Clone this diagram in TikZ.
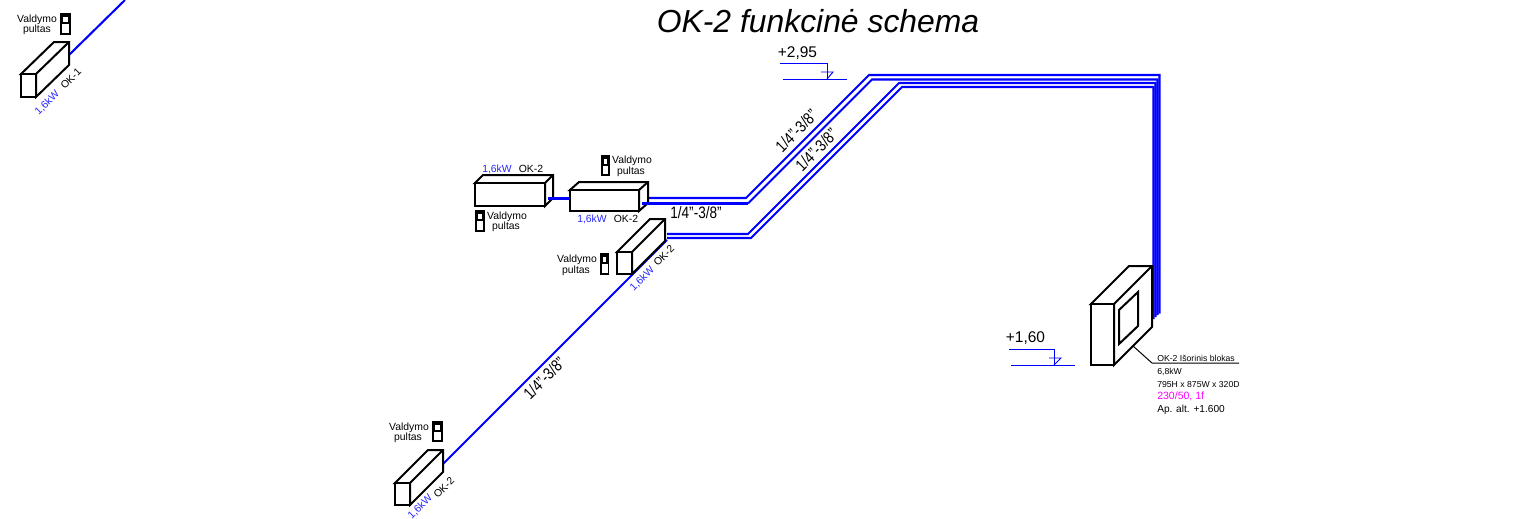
\documentclass[tikz,border=0pt]{standalone}
\usepackage{fontspec}
\setmainfont{Liberation Sans}
\definecolor{pipeblue}{RGB}{0,0,255}
\definecolor{kwblue}{RGB}{40,40,255}
\definecolor{pink}{RGB}{255,0,255}
\tikzset{
  unitline/.style={draw=black,line width=1.5pt,fill=white,line join=miter},
  pipe/.style={draw=pipeblue,line width=1.55pt,line join=miter},
  singlepipe/.style={draw=pipeblue,line width=1.55pt},
  levelmark/.style={draw=pipeblue,line width=.7pt},
  leader/.style={draw=black,line width=.75pt},
  lbl/.style={inner sep=0pt,text height=.72em,text depth=0pt,font=\fontsize{7.8pt}{8pt}\selectfont},
  kw/.style={lbl,text=kwblue},
  leftlbl/.style={inner sep=0pt,anchor=west,text height=.72em,text depth=0pt,font=\fontsize{6.5pt}{7pt}\selectfont},
  pipelabel/.style={inner sep=0pt,text height=.72em,text depth=0pt,xscale=.82,font=\fontsize{12.4pt}{13pt}\selectfont},
  level/.style={inner sep=0pt,text height=.72em,text depth=0pt,font=\fontsize{11.6pt}{12pt}\selectfont},
}
\newcommand\cabinet[6]{%
  \draw[unitline] (#1,#2) -- ++(#5,-#6) -- ({#3+#5},{#2-#6}) -- ({#3+#5},{#4-#6}) -- (#3,#4) -- (#3,#2) -- cycle;
  \draw[unitline] (#1,#2) rectangle (#3,#4);
  \draw[unitline] (#3,#2) -- ++(#5,-#6);
}
\newcommand\remote[4]{%
  \draw[draw=black,line width=1.2pt,fill=white] (#1,#2) rectangle (#3,#4);
  \fill[black] (#1,#2) rectangle (#3,{#2+(#4-#2)*.5});
  \fill[white] ({#1+2.2},{#2+2.6}) rectangle ({#3-2.2},{#2+(#4-#2)*.5-1.6});
}
\newcommand\valdymo[5]{%
  \node[lbl] (#1a) at (#2,#3) {Valdymo};
  \node[lbl] (#1b) at (#4,#5) {pultas};
}
\begin{document}
\begin{tikzpicture}[x=.75pt,y=-.75pt]
\useasboundingbox (0,0) rectangle (1516,518);
% title
\node[inner sep=0pt,text height=.72em,text depth=0pt,font=\fontsize{23.9pt}{25pt}\selectfont\itshape] (title) at (818,28) {OK-2 funkcinė schema};
% pipe coordinates
\coordinate (okoneA) at (69,55);
\coordinate (okoneB) at (125,0);
\coordinate (dA) at (443,464);
\coordinate (cB) at (667,240);
\coordinate (abA) at (548,198.5);
\coordinate (abB) at (570,198.5);
% pipes
\draw[singlepipe] (okoneA) -- (okoneB);
\draw[singlepipe] (dA) -- (cB);
\draw[pipe] (645,198) -- (746,198) -- (869,75) -- (1159.5,75) -- (1159.5,313.5);
\draw[pipe] (667,234) -- (748,234) -- (899,83) -- (1155.5,83) -- (1155.5,317);
\draw[pipe] (667,238) -- (751,238) -- (902,87) -- (1153.5,87) -- (1153.5,319);
\draw[pipe] (748,203.5) -- (872,79.5) -- (1157.5,79.5) -- (1157.5,315);
% cabinets
\cabinet{21}{74}{36}{97}{33}{32}
\cabinet{475}{183}{545}{206}{8}{8}
\cabinet{570}{190}{639}{211}{9}{8}
\cabinet{617}{252}{632}{274}{33}{33}
\cabinet{395}{483}{410}{505}{33}{33}
\cabinet{1091}{304}{1114}{365}{38}{38}
\draw[unitline] (1119,310) -- (1138,292) -- (1138,326) -- (1119,344) -- cycle;
% pipe stubs that show on the side faces
\draw[singlepipe] (abA) -- (abB);
\draw[pipe] (642,203.5) -- (748,203.5);
% remotes
\remote{61}{14}{70}{34}
\remote{602}{156}{609}{175}
\remote{476}{211}{484}{231}
\remote{601}{254}{608.5}{274}
\remote{433}{422}{442}{441}
\valdymo{p1}{37}{18}{37}{28}
\valdymo{p2}{632}{159}{631}{170}
\valdymo{p3}{507}{215}{506}{225}
\valdymo{p4}{577}{258}{576}{269}
\valdymo{p5}{409}{426}{408}{436}
% unit labels
\node[kw] (k1) at (497,168) {1,6kW};
\node[lbl] (n1) at (531,168) {OK-2};
\node[kw] (k2) at (592,218) {1,6kW};
\node[lbl] (n2) at (626,218) {OK-2};
\node[kw,rotate=45] (k3) at (641,278) {1,6kW};
\node[lbl,rotate=45] (n3) at (663,255) {OK-2};
\node[kw,rotate=45] (k4) at (419,506) {1,6kW};
\node[lbl,rotate=45] (n4) at (443,487) {OK-2};
\node[kw,rotate=45] (k5) at (46,102) {1,6kW};
\node[lbl,rotate=45] (n5) at (70,78) {OK-1};
% pipe labels
\node[pipelabel] (l1) at (696,214) {1/4"-3/8"};
\node[rotate=45,pipelabel] (l2) at (797,131.5) {1/4"-3/8"};
\node[rotate=45,pipelabel] (l3) at (817,150.5) {1/4"-3/8"};
\node[rotate=45,pipelabel] (l4) at (545,379) {1/4"-3/8"};
% level marks
\node[level] (u1) at (797.5,53) {+2,95};
\coordinate (u1a) at (780,63); \coordinate (u1b) at (827,63); \coordinate (u1c) at (827,79);
\coordinate (u1d) at (783,79); \coordinate (u1e) at (847,79);
\coordinate (u1f) at (821,72); \coordinate (u1g) at (833,72);
\draw[levelmark] (u1a) -- (u1b) -- (u1c);
\draw[levelmark] (u1d) -- (u1e);
\draw[levelmark] (u1f) -- (u1g) -- (u1c);
\node[level] (u2) at (1025.5,338) {+1,60};
\coordinate (u2a) at (1009,349); \coordinate (u2b) at (1054,349); \coordinate (u2c) at (1054,365);
\coordinate (u2d) at (1011,365); \coordinate (u2e) at (1075,365);
\coordinate (u2f) at (1049,358); \coordinate (u2g) at (1061,358);
\draw[levelmark] (u2a) -- (u2b) -- (u2c);
\draw[levelmark] (u2d) -- (u2e);
\draw[levelmark] (u2f) -- (u2g) -- (u2c);
% outdoor unit note
\coordinate (la) at (1133,346); \coordinate (lb) at (1152,363); \coordinate (lc) at (1239,363);
\draw[leader] (la) -- (lb) -- (lc);
\node[leftlbl] (t1) at (1157,357) {OK-2 Išorinis blokas};
\node[leftlbl] (t2) at (1157,370) {6,8kW};
\node[leftlbl] (t3) at (1157,383) {795H x 875W x 320D};
\node[leftlbl,text=pink,font=\fontsize{7.9pt}{8pt}\selectfont] (t4) at (1157,395) {230/50, 1f};
\node[leftlbl,font=\fontsize{7.6pt}{8pt}\selectfont] (t5) at (1157,408) {Ap. alt. +1.600};
\end{tikzpicture}
\end{document}
